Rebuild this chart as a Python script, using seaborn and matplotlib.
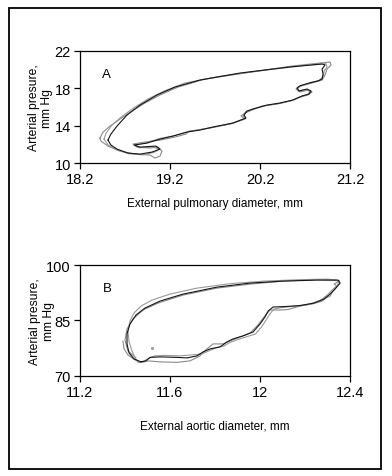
import pandas as pd
import matplotlib
matplotlib.use("Agg")
import matplotlib.pyplot as plt
import seaborn as sns
from matplotlib.patches import Rectangle

# ---- panel A: pulmonary loops (3 cycles) ----
a1_x = [18.511, 18.544, 18.611, 18.722, 18.867, 19.056, 19.256, 19.533, 19.978, 20.533, 20.889, 20.922,
        20.889, 20.900, 20.889, 20.844, 20.767, 20.644, 20.611, 20.633, 20.722, 20.767, 20.744, 20.667,
        20.567, 20.422, 20.278, 20.122, 20.056, 20.022, 20.044, 19.900, 19.678, 19.533, 19.389, 19.233,
        19.089, 18.944, 18.800, 18.867, 19.044, 19.089, 19.000, 18.867, 18.733, 18.611, 18.544, 18.511]
a1_y = [12.46, 13.11, 13.96, 15.14, 16.21, 17.29, 18.14, 18.89, 19.64, 20.29, 20.61, 20.50,
        20.07, 19.54, 19.00, 18.79, 18.63, 18.28, 18.04, 17.71, 17.93, 17.71, 17.39, 17.18,
        16.75, 16.43, 16.21, 15.79, 15.57, 15.14, 14.82, 14.29, 13.86, 13.54, 13.32, 12.89,
        12.57, 12.14, 11.93, 11.71, 11.82, 11.50, 11.18, 10.96, 11.07, 11.50, 11.93, 12.46]

a2_x = [18.422, 18.456, 18.533, 18.644, 18.778, 18.922, 19.089, 19.289, 19.589, 20.033, 20.556, 20.867,
        20.978, 20.989, 20.944, 20.922, 20.889, 20.778, 20.656, 20.600, 20.644, 20.733, 20.778, 20.733,
        20.644, 20.533, 20.389, 20.222, 20.111, 20.033, 19.989, 20.033, 19.867, 19.644, 19.511, 19.411,
        19.378, 19.256, 19.089, 18.922, 18.789, 18.833, 18.978, 19.067, 19.111, 19.089, 19.033, 18.978,
        18.811, 18.644, 18.511, 18.433, 18.422]
a2_y = [12.68, 13.32, 13.96, 14.71, 15.57, 16.43, 17.29, 18.14, 19.00, 19.64, 20.39, 20.71,
        20.82, 20.50, 20.07, 19.43, 18.89, 18.57, 18.25, 17.93, 17.61, 17.82, 17.61, 17.29,
        17.07, 16.64, 16.32, 16.11, 15.68, 15.36, 15.04, 14.71, 14.18, 13.75, 13.54, 13.43,
        13.11, 12.79, 12.46, 12.25, 12.04, 11.71, 11.61, 11.71, 11.29, 10.75, 10.54, 10.86,
        10.96, 11.29, 11.82, 12.36, 12.68]

a3_x = [18.467, 18.489, 18.556, 18.667, 18.800, 18.956, 19.133, 19.367, 19.756, 20.256, 20.711, 20.933,
        20.944, 20.911, 20.900, 20.856, 20.789, 20.678, 20.622, 20.622, 20.700, 20.756, 20.733, 20.656,
        20.556, 20.411, 20.256, 20.111, 20.044, 20.011, 20.033, 19.889, 19.667, 19.522, 19.400, 19.244,
        19.078, 18.933, 18.811, 18.856, 19.011, 19.078, 19.022, 18.900, 18.744, 18.600, 18.511, 18.467]
a3_y = [12.57, 13.21, 14.07, 15.00, 15.93, 16.86, 17.71, 18.57, 19.29, 19.96, 20.46, 20.64,
        20.29, 19.82, 19.21, 18.86, 18.68, 18.36, 18.11, 17.75, 17.86, 17.68, 17.36, 17.14,
        16.71, 16.39, 16.14, 15.75, 15.54, 15.11, 14.79, 14.25, 13.82, 13.57, 13.36, 12.93,
        12.61, 12.18, 11.96, 11.64, 11.75, 11.46, 11.14, 10.89, 11.00, 11.43, 11.96, 12.57]

# ---- panel B: aortic loops (3 cycles) ----
b1_x = [11.471, 11.440, 11.418, 11.409, 11.409, 11.422, 11.449, 11.489, 11.556, 11.658, 11.809, 11.956,
        12.102, 12.253, 12.347, 12.356, 12.333, 12.311, 12.284, 12.240, 12.178, 12.111, 12.058, 12.036,
        12.022, 12.000, 11.969, 11.924, 11.880, 11.853, 11.822, 11.778, 11.747, 11.720, 11.676, 11.631,
        11.556, 11.511, 11.493, 11.471]
b1_y = [73.78, 74.59, 76.22, 78.65, 81.35, 84.05, 86.49, 88.38, 90.27, 92.16, 94.05, 95.14,
        95.68, 95.95, 95.95, 95.14, 93.51, 92.16, 90.81, 89.73, 89.05, 88.78, 88.65, 87.57,
        85.95, 84.05, 81.89, 80.81, 80.00, 79.19, 77.84, 77.30, 76.49, 75.41, 74.86, 75.00,
        75.14, 75.00, 74.05, 73.78]

b2_x = [11.391, 11.396, 11.413, 11.444, 11.476, 11.502, 11.556, 11.631, 11.689, 11.733, 11.764, 11.791,
        11.836, 11.867, 11.911, 11.956, 11.991, 12.018, 12.044, 12.089, 12.124, 12.178, 12.231, 12.276,
        12.293, 12.311, 12.324, 12.342, 12.329, 12.351, 12.333, 12.253, 12.102, 11.956, 11.809, 11.658,
        11.547, 11.480, 11.436, 11.409, 11.400, 11.413, 11.449]
b2_y = [79.46, 77.30, 75.68, 74.32, 73.65, 74.05, 73.78, 73.65, 74.05, 75.41, 77.30, 78.65,
        78.65, 79.46, 80.54, 81.62, 83.78, 85.95, 87.84, 87.84, 87.97, 88.92, 89.46, 90.27,
        91.08, 91.62, 92.97, 94.32, 94.86, 95.68, 95.95, 96.08, 95.68, 94.86, 93.78, 91.89,
        89.73, 87.84, 85.41, 82.70, 79.73, 76.76, 74.86]

b3_x = [11.449, 11.431, 11.418, 11.413, 11.422, 11.440, 11.471, 11.520, 11.600, 11.720, 11.870, 12.020,
        12.180, 12.300, 12.352, 12.344, 12.320, 12.298, 12.271, 12.222, 12.160, 12.098, 12.062, 12.044,
        12.027, 12.007, 11.980, 11.938, 11.896, 11.862, 11.840, 11.804, 11.773, 11.742, 11.700, 11.640,
        11.578, 11.531, 11.498, 11.480, 11.460, 11.449]
b3_y = [74.32, 76.76, 79.19, 82.16, 84.86, 87.03, 88.92, 90.54, 92.16, 93.78, 95.00, 95.68,
        96.08, 96.22, 95.81, 94.59, 93.24, 91.89, 90.54, 89.46, 88.92, 88.51, 88.11, 86.76,
        85.14, 83.24, 81.35, 80.54, 79.73, 78.92, 78.11, 77.57, 76.76, 75.95, 75.68, 75.41,
        75.54, 75.41, 74.46, 73.92, 73.51, 74.32]

stray_x = [11.519]
stray_y = [77.5]


def loops(traces):
    rows = []
    for name, xs, ys in traces:
        for i, (x, y) in enumerate(zip(xs, ys)):
            rows.append({"cycle": name, "order": i, "x": x, "y": y})
    return pd.DataFrame(rows)


dfA = loops([("c2", a2_x, a2_y), ("c3", a3_x, a3_y), ("c1", a1_x, a1_y)])
dfB = loops([("c2", b2_x, b2_y), ("c3", b3_x, b3_y), ("c1", b1_x, b1_y)])
pal = {"c1": "#151515", "c2": "#8a8a8a", "c3": "#9a9a9a"}

sns.set_style("ticks")
plt.rcParams['font.family'] = ['Liberation Sans', 'DejaVu Sans']
plt.rcParams['text.color'] = 'black'
plt.rcParams['axes.labelcolor'] = 'black'
plt.rcParams['xtick.color'] = 'black'
plt.rcParams['ytick.color'] = 'black'

fig = plt.figure(figsize=(3.92, 4.77), dpi=100)
fig.patches.append(Rectangle((0.023, 0.015), 0.949, 0.966, transform=fig.transFigure,
                             fill=False, edgecolor="black", linewidth=1.3))

axA = fig.add_axes([0.204, 0.656, 0.689, 0.235])
axB = fig.add_axes([0.204, 0.210, 0.689, 0.232])

sns.lineplot(data=dfA, x="x", y="y", hue="cycle", units="cycle", estimator=None, sort=False,
             palette=pal, linewidth=0.8, legend=False, ax=axA)
sns.lineplot(data=dfB, x="x", y="y", hue="cycle", units="cycle", estimator=None, sort=False,
             palette=pal, linewidth=0.8, legend=False, ax=axB)
axB.scatter(stray_x, stray_y, s=1.5, color="#9a9a9a")

axA.set_xlim(18.2, 21.2)
axA.set_ylim(10, 22)
axA.set_xticks([18.2, 19.2, 20.2, 21.2])
axA.set_xticklabels(["18.2", "19.2", "20.2", "21.2"])
axA.set_yticks([10, 14, 18, 22])
axA.set_xlabel("External pulmonary diameter, mm", fontsize=8.5, labelpad=8)
axA.set_ylabel("Arterial presure,\nmm Hg", fontsize=8.7, linespacing=1.2)
axA.yaxis.set_label_coords(-0.098, 0.5)
axA.text(0.083, 0.77, "A", transform=axA.transAxes, fontsize=9.5)

axB.set_xlim(11.2, 12.4)
axB.set_ylim(70, 100)
axB.set_xticks([11.2, 11.6, 12.0, 12.4])
axB.set_xticklabels(["11.2", "11.6", "12", "12.4"])
axB.set_yticks([70, 85, 100])
axB.set_xlabel("External aortic diameter, mm", fontsize=8.5, labelpad=15)
axB.set_ylabel("Arterial presure,\nmm Hg", fontsize=8.7, linespacing=1.2)
axB.yaxis.set_label_coords(-0.092, 0.5)
axB.text(0.083, 0.77, "B", transform=axB.transAxes, fontsize=9.5)

for ax in (axA, axB):
    for s in ax.spines.values():
        s.set_linewidth(0.9)
        s.set_color("black")
    ax.tick_params(length=4.5, width=0.9, pad=2, labelsize=10.5, color="black")

fig.savefig("out.png", dpi=100)
